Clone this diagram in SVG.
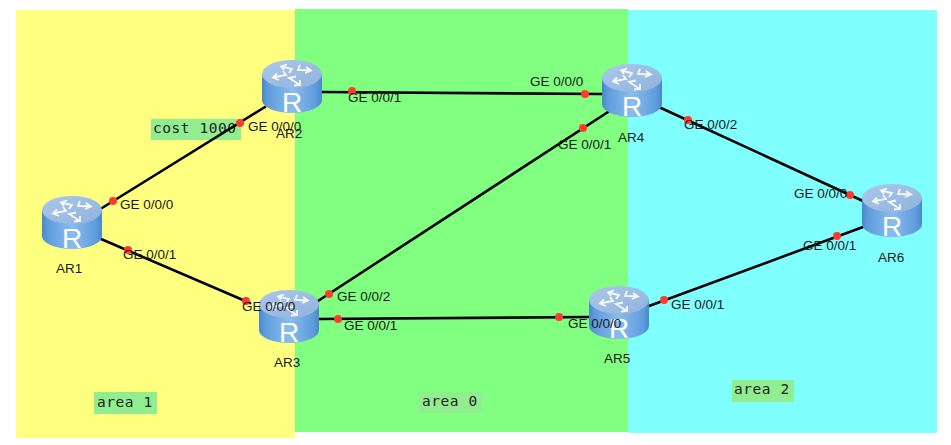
<svg xmlns="http://www.w3.org/2000/svg" width="951" height="445" viewBox="0 0 951 445">
<style>
.lbl{font-family:"Liberation Sans",Arial,sans-serif;font-size:13.5px;fill:#1a1a1a}
.note{font-family:"DejaVu Sans Mono",monospace;font-size:14.5px;letter-spacing:.55px;fill:#222}
.nbg{fill:#90ee90}
.link{stroke:#000;stroke-width:2.6;fill:none;stroke-linecap:round}
.dot{fill:#ff3b30}
.arw{fill:none;stroke:#fff;stroke-width:1.8;stroke-opacity:.92}
</style>
<defs>
<linearGradient id="body" x1="0" x2="1" y1="0" y2="0">
<stop offset="0" stop-color="#4a88ca"/><stop offset=".1" stop-color="#5f9cdc"/><stop offset=".5" stop-color="#8abcee"/><stop offset=".9" stop-color="#5f9cdc"/><stop offset="1" stop-color="#4a88ca"/>
</linearGradient>
<linearGradient id="top" x1="0" x2="1" y1="0" y2="1">
<stop offset="0" stop-color="#aac8ea"/><stop offset="1" stop-color="#90b2dc"/>
</linearGradient>
<symbol id="router" width="60" height="53" viewBox="0 0 60 53" overflow="visible">
<path d="M0,14V40A30,13 0 0 0 60,40V14Z" fill="url(#body)"/>
<ellipse cx="30" cy="14" rx="30" ry="14" fill="url(#top)"/>
<path class="arw" d="M19,6.500 L30,9 L27,13 M25,4.500 L19,6.500 L22,10"/>
<path class="arw" d="M49,10.500 L36,10 L38,5 M44,7 L49,10.500 L43,13"/>
<path class="arw" d="M11,17.500 L24,15 L21,11 M15,13.500 L11,17.500 L17,20"/>
<path class="arw" d="M38,25 L27,18 L34,16.500 M32,25.500 L38,25 L38,20"/>
<text x="20" y="51.500" font-family="Liberation Sans,Arial,sans-serif" font-size="28" fill="#fff">R</text>
</symbol>
</defs>
<rect width="951" height="445" fill="#fff"/>
<g id="areas">
<rect x="16" y="10" width="279" height="428" fill="#ffff80"/>
<rect x="628" y="10" width="309" height="423" fill="#80ffff"/>
<rect x="295" y="9" width="333" height="423" fill="#80ff80"/>
</g>
<g id="notes">
<rect class="nbg" x="151" y="119" width="90" height="21"/><text class="note" x="153" y="133">cost 1000</text>
<rect class="nbg" x="94" y="392" width="63" height="22"/><text class="note" x="97" y="407">area 1</text>
<rect class="nbg" x="419" y="392" width="63" height="21"/><text class="note" x="422" y="406">area 0</text>
<rect class="nbg" x="732" y="380" width="62" height="22"/><text class="note" x="734" y="394">area 2</text>
</g>
<g id="connectors">
<line class="link" x1="102" y1="208" x2="265" y2="107"/>
<line class="link" x1="101" y1="239" x2="250" y2="303"/>
<line class="link" x1="321" y1="92" x2="602" y2="94"/>
<line class="link" x1="318" y1="301" x2="608" y2="112"/>
<line class="link" x1="318" y1="319" x2="589" y2="317"/>
<line class="link" x1="661" y1="108" x2="863" y2="201"/>
<line class="link" x1="649" y1="306" x2="863" y2="227"/>
</g>
<g id="AR1"><use href="#router" x="42" y="196"/><text class="lbl" x="56" y="273">AR1</text></g>
<g id="AR2"><use href="#router" x="262" y="60"/><text class="lbl" x="276" y="138">AR2</text></g>
<g id="AR3"><use href="#router" x="259" y="290"/><text class="lbl" x="274" y="367">AR3</text></g>
<g id="AR4"><use href="#router" x="602" y="64"/><text class="lbl" x="618" y="142">AR4</text></g>
<g id="AR5"><use href="#router" x="589" y="286"/><text class="lbl" x="604" y="363">AR5</text></g>
<g id="AR6"><use href="#router" x="862" y="184"/><text class="lbl" x="878" y="262">AR6</text></g>
<g id="ports">
<circle class="dot" cx="113" cy="201" r="4"/><circle class="dot" cx="128" cy="250" r="4"/>
<circle class="dot" cx="240" cy="123" r="4"/><circle class="dot" cx="246" cy="301" r="4"/>
<circle class="dot" cx="352" cy="91" r="4"/><circle class="dot" cx="585" cy="94" r="4"/>
<circle class="dot" cx="583" cy="128" r="4"/><circle class="dot" cx="329" cy="294" r="4"/>
<circle class="dot" cx="338" cy="319" r="4"/><circle class="dot" cx="559" cy="317" r="4"/>
<circle class="dot" cx="688" cy="120" r="4"/><circle class="dot" cx="850" cy="195" r="4"/>
<circle class="dot" cx="664" cy="300" r="4"/><circle class="dot" cx="837" cy="236" r="4"/>
<text class="lbl" x="120" y="209">GE 0/0/0</text>
<text class="lbl" x="123" y="259">GE 0/0/1</text>
<text class="lbl" x="248" y="131">GE 0/0/0</text>
<text class="lbl" x="242" y="311">GE 0/0/0</text>
<text class="lbl" x="348" y="102">GE 0/0/1</text>
<text class="lbl" x="530" y="86">GE 0/0/0</text>
<text class="lbl" x="558" y="149">GE 0/0/1</text>
<text class="lbl" x="337" y="301">GE 0/0/2</text>
<text class="lbl" x="344" y="330">GE 0/0/1</text>
<text class="lbl" x="568" y="328">GE 0/0/0</text>
<text class="lbl" x="684" y="129">GE 0/0/2</text>
<text class="lbl" x="794" y="198">GE 0/0/0</text>
<text class="lbl" x="671" y="309">GE 0/0/1</text>
<text class="lbl" x="803" y="250">GE 0/0/1</text>
</g>
</svg>
